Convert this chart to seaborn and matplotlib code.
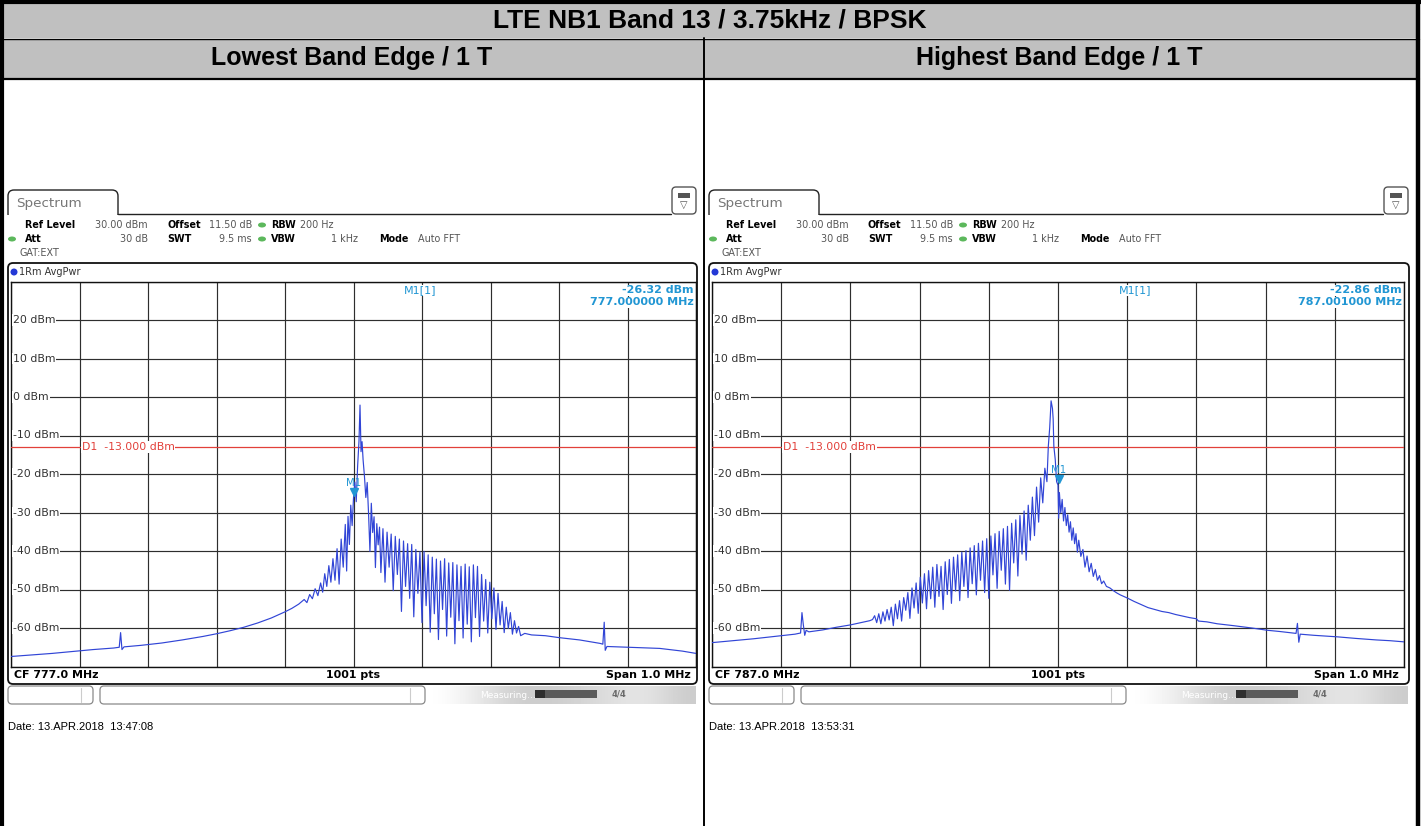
import numpy as np
import pandas as pd
import seaborn as sns
import matplotlib
matplotlib.use("Agg")
import matplotlib.pyplot as plt
from matplotlib.patches import Rectangle, FancyBboxPatch, Ellipse

# ---------------------------------------------------------------- data
TITLE = "LTE NB1 Band 13 / 3.75kHz / BPSK"
PANEL_TITLES = ["Lowest Band Edge / 1 T", "Highest Band Edge / 1 T"]
CENTER_LABELS = ["CF 777.0 MHz", "CF 787.0 MHz"]
SPAN_LABEL = "Span 1.0 MHz"
PTS_LABEL = "1001 pts"
LEVEL_TICKS = [20, 10, 0, -10, -20, -30, -40, -50, -60]
FREQ_GRID_KHZ = [-500, -400, -300, -200, -100, 0, 100, 200, 300, 400, 500]
LIMIT_DBM = -13.0
LIMIT_LABEL = "D1  -13.000 dBm"
MARKER_F = [0.0, 1.0]
MARKER_P = [-26.32, -22.86]
MARKER_VAL = ["-26.32 dBm", "-22.86 dBm"]
MARKER_FREQ = ["777.000000 MHz", "787.001000 MHz"]
DATES = ["Date: 13.APR.2018  13:47:08", "Date: 13.APR.2018  13:53:31"]

# Lowest band edge trace: offset from 777.0 MHz (kHz), level (dBm)
LOW_F = [-500, -470, -440, -410, -380, -350, -342, -340, -338, -335, -310, -280,
         -250, -220, -200, -180, -160, -140, -120, -100, -90, -80, -72, -68,
         -64, -60, -56, -52, -48, -45, -42, -39, -36, -33, -30, -27, -24, -21,
         -18, -15, -12, -10, -8, -6, -4, -2, 0, 2, 4, 6, 8, 9.5, 11, 12.5, 14,
         16, 18, 20, 22, 24, 26, 28, 30, 32, 34, 36, 38, 40, 43, 46, 49, 52,
         55, 58, 61, 64, 67, 70, 73, 76, 79, 82, 85, 88, 91, 94, 97, 100, 103,
         106, 109, 112, 115, 118, 121, 124, 127, 130, 133, 136, 139, 142, 145,
         148, 151, 154, 157, 160, 163, 166, 169, 172, 175, 178, 181, 184, 187,
         190, 193, 196, 199, 202, 205, 208, 211, 214, 217, 220, 223, 226, 229,
         232, 235, 238, 241, 244, 250, 260, 280, 300, 330, 360, 364, 366,
         367.5, 370, 400, 447, 480, 500]
LOW_P = [-67.4, -67.0, -66.6, -66.1, -65.6, -65.2, -65.0, -61.2, -65.6, -64.9,
         -64.5, -63.9, -63.1, -62.2, -61.5, -60.7, -59.8, -58.7, -57.4, -55.8,
         -54.9, -53.8, -52.6, -53.4, -51.3, -52.4, -49.8, -51.6, -48.3, -50.7,
         -45.9, -49.2, -43.8, -48.1, -42.0, -47.6, -39.4, -48.6, -36.9, -44.2,
         -33.1, -45.2, -31.0, -38.3, -28.1, -33.4, -26.3, -22.1, -27.2, -18.0,
         -11.5, -2.1, -14.2, -11.6, -16.3, -20.6, -26.1, -22.2, -30.4, -40.1,
         -27.6, -35.2, -31.1, -44.3, -32.9, -38.4, -33.8, -45.6, -34.2, -48.1,
         -35.1, -44.2, -35.6, -50.3, -36.2, -46.1, -36.9, -55.7, -37.4, -49.2,
         -38.1, -52.3, -38.3, -57.1, -39.6, -51.0, -40.2, -58.6, -40.1, -54.2,
         -41.0, -61.1, -41.6, -56.3, -42.1, -63.0, -42.6, -55.2, -42.0, -62.1,
         -43.1, -57.2, -43.0, -64.1, -43.6, -58.1, -44.0, -62.6, -43.4, -59.0,
         -44.1, -63.6, -43.6, -57.3, -44.0, -62.2, -46.1, -58.2, -47.4, -61.3,
         -48.1, -57.6, -49.6, -60.4, -51.0, -59.2, -53.1, -61.2, -54.6, -60.1,
         -56.0, -61.6, -58.1, -61.3, -59.6, -62.0, -61.4, -61.8, -62.0, -62.5,
         -63.1, -64.0, -64.2, -58.5, -65.8, -64.8, -65.0, -65.3, -66.0, -66.6]

# Highest band edge trace: offset from 787.0 MHz (kHz), level (dBm)
HIGH_F = [-500, -470, -440, -410, -380, -372, -370, -368, -366, -364, -360,
          -340, -320, -300, -285, -272, -268, -265, -262, -259, -256, -253,
          -250, -247, -244, -241, -238, -235, -232, -229, -226, -223, -220,
          -217, -214, -211, -208, -205, -202, -199, -196, -193, -190, -187,
          -184, -181, -178, -175, -172, -169, -166, -163, -160, -157, -154,
          -151, -148, -145, -142, -139, -136, -133, -130, -127, -124, -121,
          -118, -115, -112, -109, -106, -103, -100, -97, -94, -91, -88, -85,
          -82, -79, -76, -73, -70, -67, -64, -61, -58, -55, -52, -49, -46,
          -43, -40, -37, -34, -31, -28, -25, -22, -19, -16, -14, -12, -10, -8,
          -7, -6, -4, -2, 0, 1, 2, 4, 6, 8, 10, 12, 14, 16, 18, 20, 22, 24,
          26, 28, 30, 33, 36, 39, 42, 45, 48, 51, 54, 57, 60, 63, 66, 70, 75,
          80, 85, 90, 100, 110, 120, 130, 140, 150, 160, 170, 180, 190, 200,
          203, 215, 230, 254, 280, 303, 320, 340, 344, 346, 348, 350, 370,
          404, 430, 460, 480, 500]
HIGH_P = [-63.8, -63.3, -62.8, -62.2, -61.6, -61.3, -56.0, -59.2, -61.9, -60.6,
          -61.0, -60.5, -59.8, -59.2, -58.6, -58.1, -57.8, -56.8, -58.6, -56.3,
          -58.9, -55.8, -58.2, -55.2, -57.9, -54.6, -59.4, -53.8, -57.6, -52.9,
          -58.2, -52.1, -55.4, -50.8, -57.5, -49.6, -54.8, -48.3, -56.2, -46.8,
          -53.5, -45.9, -55.0, -45.1, -52.4, -44.2, -54.6, -43.5, -51.8, -44.0,
          -55.2, -42.8, -51.3, -42.2, -53.6, -41.6, -50.4, -41.0, -52.9, -40.3,
          -49.2, -39.9, -52.1, -39.2, -48.5, -38.6, -51.4, -38.0, -47.6, -37.4,
          -50.8, -36.8, -52.3, -36.1, -46.2, -35.5, -49.7, -34.9, -45.0, -34.2,
          -48.6, -33.6, -50.2, -32.8, -43.1, -31.9, -46.5, -30.8, -40.8, -29.6,
          -42.4, -28.1, -37.2, -26.0, -36.0, -23.4, -32.5, -21.0, -27.5, -18.5,
          -22.0, -12.8, -8.0, -1.0, -3.0, -5.7, -12.8, -16.2, -22.0, -22.86,
          -31.5, -24.8, -30.1, -26.6, -32.2, -28.7, -33.4, -30.6, -35.1, -32.4,
          -37.2, -34.0, -38.1, -35.5, -40.3, -37.2, -41.4, -39.6, -44.2, -41.3,
          -45.4, -43.2, -46.6, -44.8, -47.6, -46.4, -48.5, -47.8, -49.2, -49.6,
          -50.3, -50.9, -51.4, -52.2, -53.1, -53.9, -54.7, -55.2, -55.7, -56.0,
          -56.5, -56.9, -57.3, -57.6, -58.2, -58.4, -58.9, -59.4, -60.0, -60.6,
          -60.9, -61.3, -61.4, -58.8, -63.7, -61.6, -61.9, -62.3, -62.7, -63.1,
          -63.3, -63.6]

TRACES = [pd.DataFrame({"f": LOW_F, "p": LOW_P}),
          pd.DataFrame({"f": HIGH_F, "p": HIGH_P})]

# ---------------------------------------------------------------- style
sns.set_style("white")
plt.rcParams["font.family"] = ["DejaVu Sans"]
plt.rcParams["text.color"] = "black"

W, H = 1421, 826
fig = plt.figure(figsize=(W / 100, H / 100), dpi=100)
fig.patch.set_facecolor("white")
bg = fig.add_axes([0, 0, 1, 1])
bg.set_xlim(0, W)
bg.set_ylim(H, 0)
bg.axis("off")

TABLE_FONT = ["Liberation Sans", "DejaVu Sans"]
GRAY_HDR = "#c0c0c0"
TRACE_C = "#3145d6"
MK_C = "#2196d3"
RED = "#e2403a"


def frac(x0, y0, x1, y1):
    return [x0 / W, 1 - y1 / H, (x1 - x0) / W, (y1 - y0) / H]


# ---------------------------------------------------------------- table
bg.add_patch(Rectangle((3, 3), 1414, 35, fc=GRAY_HDR, ec="none"))
bg.add_patch(Rectangle((3, 39), 1414, 39, fc=GRAY_HDR, ec="none"))
bg.plot([0, W], [1.5, 1.5], color="black", lw=3.0)
bg.plot([1.5, 1.5], [0, H], color="black", lw=3.0)
bg.plot([1418, 1418], [0, H], color="black", lw=3.2)
bg.plot([0, 1419], [38.5, 38.5], color="black", lw=1.0)
bg.plot([0, 1419], [78.5, 78.5], color="black", lw=1.6)
bg.plot([704, 704], [38, H], color="black", lw=1.4)
bg.text(710, 20, TITLE, ha="center", va="center", fontsize=19,
        fontweight="bold", family=TABLE_FONT, color="black")
bg.text(352, 58, PANEL_TITLES[0], ha="center", va="center", fontsize=18,
        fontweight="bold", family=TABLE_FONT, color="black")
bg.text(1059, 58, PANEL_TITLES[1], ha="center", va="center", fontsize=18,
        fontweight="bold", family=TABLE_FONT, color="black")

# ---------------------------------------------------------------- panels
PANELS = [dict(ox=8, br=697, gx0=11, gx1=696),
          dict(ox=709, br=1409, gx0=712, gx1=1404)]
GY0, GY1 = 281.5, 666.5

for i, P in enumerate(PANELS):
    ox, br, gx0, gx1 = P["ox"], P["br"], P["gx0"], P["gx1"]
    # tab
    bg.add_patch(FancyBboxPatch((ox, 190), 110, 30,
                                boxstyle="round,pad=0,rounding_size=6",
                                fc="white", ec="#222222", lw=1.0, zorder=2))
    bg.add_patch(Rectangle((ox - 2, 214.6), 114, 8, fc="white", ec="none", zorder=3))
    bg.plot([ox + 110, br - 26], [214, 214], color="#222222", lw=1.0, zorder=3)
    bg.text(ox + 8, 203, "Spectrum", fontsize=9.7, color="#777777",
            va="center", ha="left", zorder=4)
    # icon
    bg.add_patch(FancyBboxPatch((br - 25, 187), 24, 27,
                                boxstyle="round,pad=0,rounding_size=4",
                                fc="white", ec="#555555", lw=1.0, zorder=4))
    bg.add_patch(Rectangle((br - 19, 193), 12, 4.5, fc="#555555", ec="none", zorder=5))
    bg.text(br - 13, 205, "\u25bd", fontsize=7, color="#555555", ha="center",
            va="center", zorder=5)
    # header settings
    y1, y2, y3 = 225, 239, 253
    fs = 6.9
    bg.text(ox + 17, y1, "Ref Level", fontsize=fs, fontweight="bold", va="center")
    bg.text(ox + 140, y1, "30.00 dBm", fontsize=fs, color="#555555", va="center", ha="right")
    bg.text(ox + 159, y1, "Offset", fontsize=fs, fontweight="bold", va="center")
    bg.text(ox + 244, y1, "11.50 dB", fontsize=fs, color="#555555", va="center", ha="right")
    bg.add_patch(Ellipse((ox + 254, y1), 8, 5, fc="#5cb85c", ec="none"))
    bg.text(ox + 263, y1, "RBW", fontsize=fs, fontweight="bold", va="center")
    bg.text(ox + 292, y1, "200 Hz", fontsize=fs, color="#555555", va="center")
    bg.add_patch(Ellipse((ox + 4, y2), 8, 5, fc="#5cb85c", ec="none"))
    bg.text(ox + 17, y2, "Att", fontsize=fs, fontweight="bold", va="center")
    bg.text(ox + 140, y2, "30 dB", fontsize=fs, color="#555555", va="center", ha="right")
    bg.text(ox + 159, y2, "SWT", fontsize=fs, fontweight="bold", va="center")
    bg.text(ox + 244, y2, "9.5 ms", fontsize=fs, color="#555555", va="center", ha="right")
    bg.add_patch(Ellipse((ox + 254, y2), 8, 5, fc="#5cb85c", ec="none"))
    bg.text(ox + 263, y2, "VBW", fontsize=fs, fontweight="bold", va="center")
    bg.text(ox + 350, y2, "1 kHz", fontsize=fs, color="#555555", va="center", ha="right")
    bg.text(ox + 371, y2, "Mode", fontsize=fs, fontweight="bold", va="center")
    bg.text(ox + 410, y2, "Auto FFT", fontsize=fs, color="#555555", va="center")
    bg.text(ox + 12, y3, "GAT:EXT", fontsize=fs, color="#555555", va="center")
    # diagram frame
    bg.add_patch(FancyBboxPatch((ox, 263), br - ox, 421,
                                boxstyle="round,pad=0,rounding_size=5",
                                fc="white", ec="#111111", lw=1.3))
    bg.add_patch(Ellipse((ox + 6, 272), 7, 7, fc="#2439d6", ec="none"))
    bg.text(ox + 11, 272, "1Rm AvgPwr", fontsize=7.0, va="center", color="#333333")
    bg.text(gx0 + 3, 675, CENTER_LABELS[i], fontsize=7.9, fontweight="bold", va="center")
    bg.text((gx0 + gx1) / 2, 675, PTS_LABEL, fontsize=7.9, fontweight="bold",
            va="center", ha="center")
    bg.text(gx1 - 5, 675, SPAN_LABEL, fontsize=7.9, fontweight="bold",
            va="center", ha="right")
    # status bar
    bg.add_patch(FancyBboxPatch((ox, 686), 85, 18, boxstyle="round,pad=0,rounding_size=4",
                                fc="white", ec="#8a8a8a", lw=0.9))
    bg.plot([ox + 73, ox + 73], [688, 702], color="#cccccc", lw=0.8)
    bg.add_patch(FancyBboxPatch((ox + 92, 686), 325, 18, boxstyle="round,pad=0,rounding_size=4",
                                fc="white", ec="#8a8a8a", lw=0.9))
    bg.plot([ox + 402, ox + 402], [688, 702], color="#cccccc", lw=0.8)
    grad = np.array([[1.0, 0.96, 0.9, 0.84, 0.8, 0.8, 0.82, 0.85, 0.88, 0.9, 0.86, 0.8]])
    bg.imshow(grad, extent=(ox + 418, br - 1, 704, 686), cmap="gray", vmin=0, vmax=1,
              aspect="auto", interpolation="bicubic", zorder=1)
    bg.text(ox + 500, 695, "Measuring...", fontsize=6.5, color="white", va="center",
            ha="center", zorder=2)
    bg.add_patch(Rectangle((ox + 527, 690), 62, 8, fc="#5a5a5a", ec="none", zorder=2))
    bg.add_patch(Rectangle((ox + 527, 690), 10, 8, fc="#2e2e2e", ec="none", zorder=3))
    bg.text(ox + 611, 694, "4/4", fontsize=6, color="#6a6a6a", fontweight="bold",
            va="center", ha="center", zorder=2)
    bg.text(ox, 727, DATES[i], fontsize=8.0, va="center", family=TABLE_FONT)

    # ---------------- spectrum trace axes
    ax = fig.add_axes(frac(gx0, GY0, gx1, GY1))
    ax.set_facecolor("white")
    sns.lineplot(data=TRACES[i], x="f", y="p", ax=ax, color=TRACE_C, lw=0.85,
                 estimator=None, sort=False, zorder=4)
    ax.set_xlim(-500, 500)
    ax.set_ylim(-70, 30)
    ax.set_xticks(FREQ_GRID_KHZ)
    ax.set_yticks(list(range(-70, 31, 10)))
    ax.grid(True, color="#2e2e2e", lw=0.85)
    ax.tick_params(length=0, labelbottom=False, labelleft=False)
    ax.set_xlabel("")
    ax.set_ylabel("")
    for s in ax.spines.values():
        s.set_color("#111111")
        s.set_linewidth(1.0)
    ax.axhline(LIMIT_DBM, color=RED, lw=0.9, zorder=3)
    ax.text(-397, LIMIT_DBM, LIMIT_LABEL, color=RED, fontsize=7.8, va="center",
            ha="left", zorder=5,
            bbox=dict(fc="white", ec="none", pad=0.6))
    for lv in LEVEL_TICKS:
        ax.text(-497, lv, f"{lv} dBm", fontsize=7.8, color="#333333", va="center",
                ha="left", zorder=5, bbox=dict(fc="white", ec="none", pad=0.6))
    ax.plot([MARKER_F[i]], [MARKER_P[i] + 1.6], marker="v", ms=5.5, color=MK_C,
            ls="none", zorder=6)
    ax.text(MARKER_F[i], MARKER_P[i] + 4.0, "M1", color=MK_C, fontsize=7.3,
            ha="center", va="center", zorder=6)
    mx = 97 if i == 0 else 112
    ax.text(mx, 27.7, "M1[1]", color=MK_C, fontsize=8, ha="center", va="center",
            zorder=6, bbox=dict(fc="white", ec="none", pad=0.3))
    ax.text(497, 27.7, MARKER_VAL[i], color=MK_C, fontsize=8, fontweight="bold",
            ha="right", va="center", zorder=6, bbox=dict(fc="white", ec="none", pad=0.3))
    ax.text(497, 24.6, MARKER_FREQ[i], color=MK_C, fontsize=8, fontweight="bold",
            ha="right", va="center", zorder=6, bbox=dict(fc="white", ec="none", pad=0.3))

bg.set_xlim(0, W)
bg.set_ylim(H, 0)
fig.savefig("out.png", dpi=100, facecolor="white")
